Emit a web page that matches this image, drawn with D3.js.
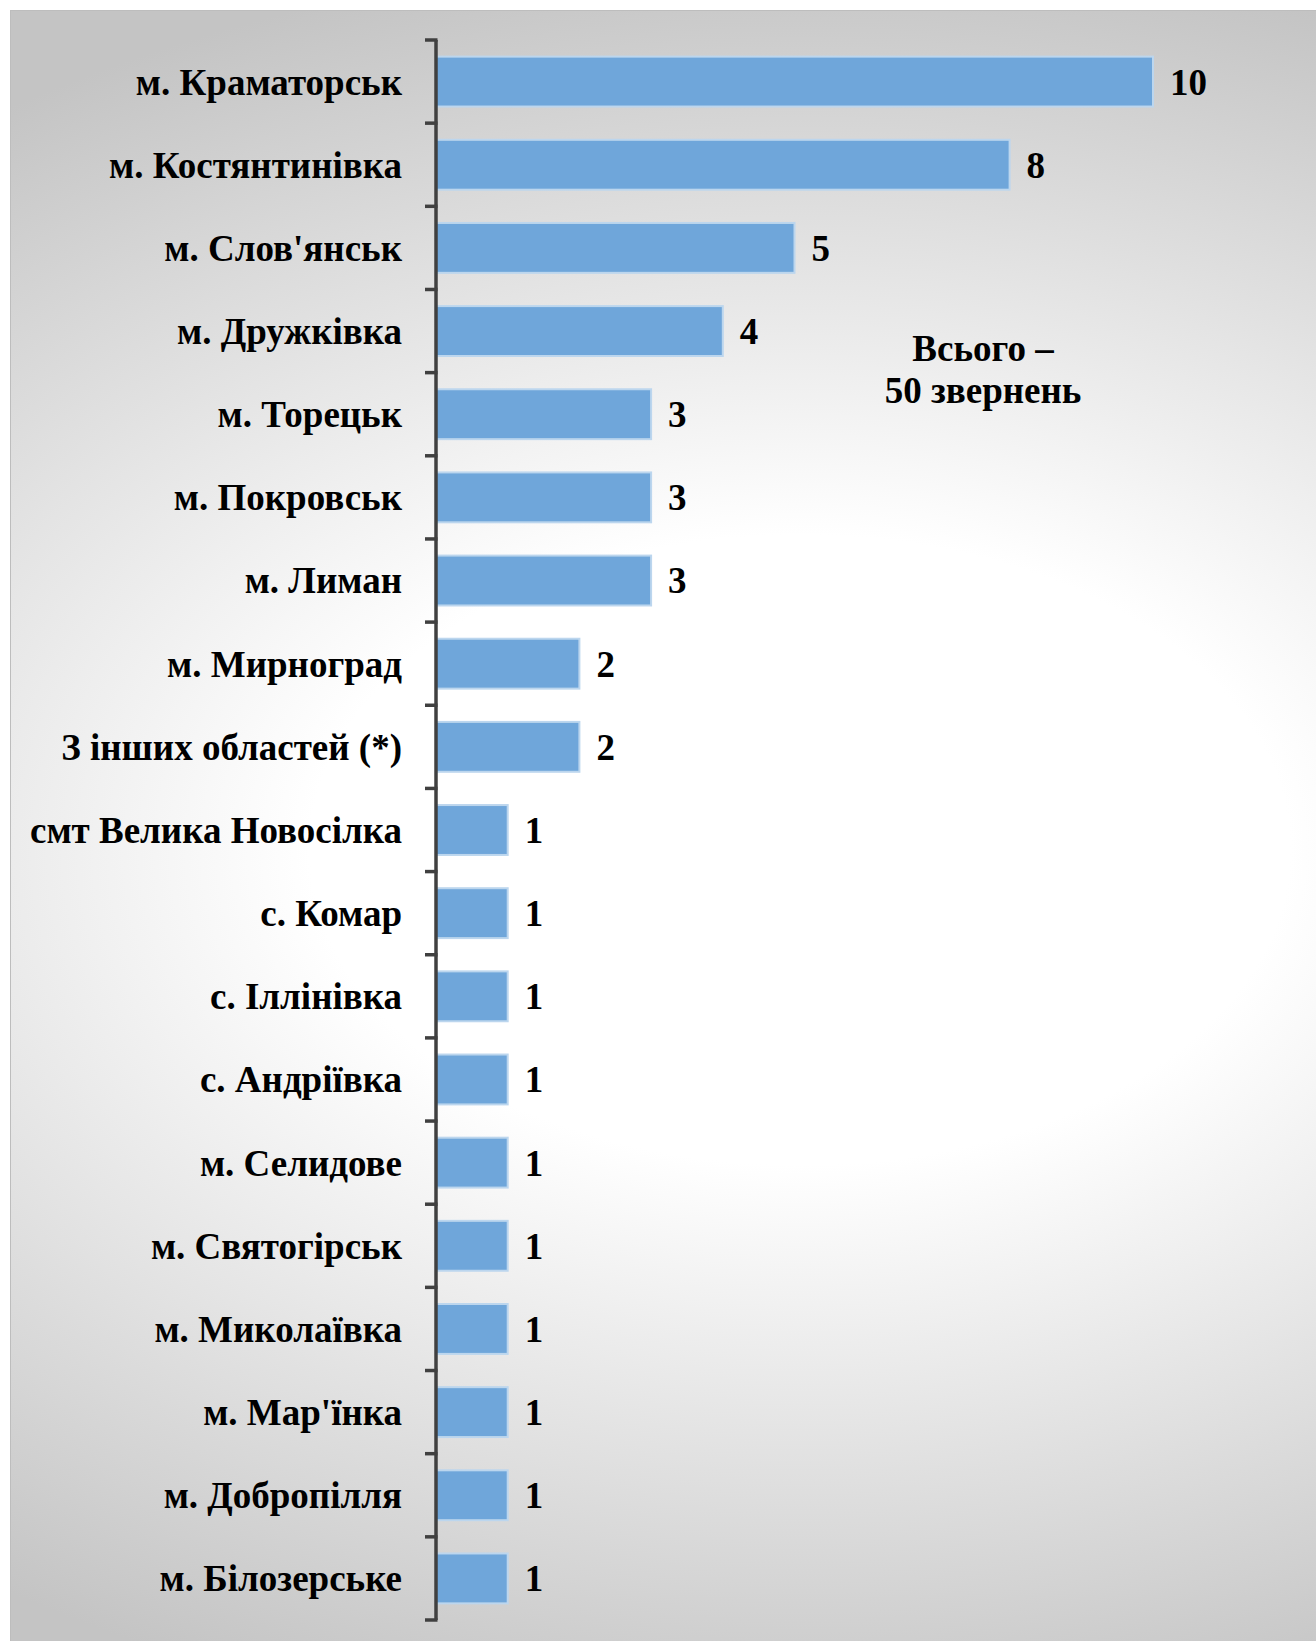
<!DOCTYPE html>
<html>
<head>
<meta charset="utf-8">
<script src="https://cdn.jsdelivr.net/npm/d3@7"></script>
<style>
  html, body { margin: 0; padding: 0; background: #ffffff; }
  svg { display: block; }
  .lbl { font-family: "Liberation Serif", "Times New Roman", serif; font-weight: bold; font-size: 37px; fill: #000; }
</style>
</head>
<body>
<svg id="chart"></svg>
<script>
// data
var places = ["м. Краматорськ", "м. Костянтинівка", "м. Слов'янськ", "м. Дружківка",
  "м. Торецьк", "м. Покровськ", "м. Лиман", "м. Мирноград", "З інших областей (*)",
  "смт Велика Новосілка", "с. Комар", "с. Іллінівка", "с. Андріївка", "м. Селидове",
  "м. Святогірськ", "м. Миколаївка", "м. Мар'їнка", "м. Добропілля", "м. Білозерське"];
var counts = [10, 8, 5, 4, 3, 3, 3, 2, 2, 1, 1, 1, 1, 1, 1, 1, 1, 1, 1];
var totalNote = ["Всього –", "50 звернень"];

var width = 1316, height = 1641;
var svg = d3.select("#chart").attr("width", width).attr("height", height);

// soft radial background like the office chart fill
var defs = svg.append("defs");
var grad = defs.append("radialGradient")
    .attr("id", "bg")
    .attr("gradientUnits", "userSpaceOnUse")
    .attr("cx", 0).attr("cy", 0).attr("r", 1)
    .attr("gradientTransform", "translate(800,850) scale(1400,900)");
grad.append("stop").attr("offset", 0).attr("stop-color", "#ffffff");
grad.append("stop").attr("offset", 0.35).attr("stop-color", "#ffffff");
grad.append("stop").attr("offset", 1).attr("stop-color", "#c4c4c4");

svg.append("rect")
    .attr("x", 10.5).attr("y", 10.5)
    .attr("width", width).attr("height", height)
    .attr("fill", "url(#bg)")
    .attr("stroke", "#bdbdbd")
    .attr("stroke-width", 1);

var x = d3.scaleLinear().domain([0, 10]).range([436, 1153]);
var y = d3.scaleBand().domain(places).range([40, 1620]).paddingInner(0.4).paddingOuter(0.2);

var g = svg.append("g");

// bars
g.selectAll("rect.bar")
  .data(places)
  .enter().append("rect")
    .attr("class", "bar")
    .attr("x", x(0))
    .attr("y", function(d) { return y(d); })
    .attr("width", function(d, i) { return x(counts[i]) - x(0); })
    .attr("height", y.bandwidth())
    .attr("fill", "#6fa6da")
    .attr("stroke", "#bcd6ee")
    .attr("stroke-width", 2);

// value labels
g.selectAll("text.val")
  .data(places)
  .enter().append("text")
    .attr("class", "lbl val")
    .attr("x", function(d, i) { return x(counts[i]) + 17; })
    .attr("y", function(d) { return y(d) + y.bandwidth() / 2; })
    .attr("dy", "0.35em")
    .text(function(d, i) { return counts[i]; });

// category labels
g.selectAll("text.cat")
  .data(places)
  .enter().append("text")
    .attr("class", "lbl cat")
    .attr("x", 402)
    .attr("y", function(d) { return y(d) + y.bandwidth() / 2; })
    .attr("dy", "0.35em")
    .attr("text-anchor", "end")
    .text(function(d) { return d; });

// axis: ticks sit between the categories, not at their centres
var axis = svg.append("g").attr("stroke", "#404040").attr("stroke-width", 3.5);
var r = y.range();
axis.append("line")
    .attr("x1", x(0)).attr("x2", x(0))
    .attr("y1", r[0]).attr("y2", r[1]);
axis.selectAll("line.tick")
  .data(d3.range(places.length + 1))
  .enter().append("line")
    .attr("class", "tick")
    .attr("x1", x(0) - 11).attr("x2", x(0) + 1.5)
    .attr("y1", function(i) { return r[0] + i * y.step(); })
    .attr("y2", function(i) { return r[0] + i * y.step(); });

// total note
svg.append("text")
    .attr("class", "lbl")
    .attr("text-anchor", "middle")
  .selectAll("tspan")
  .data(totalNote)
  .enter().append("tspan")
    .attr("x", 983)
    .attr("y", function(d, i) { return 361 + i * 42; })
    .text(function(d) { return d; });
</script>
</body>
</html>
